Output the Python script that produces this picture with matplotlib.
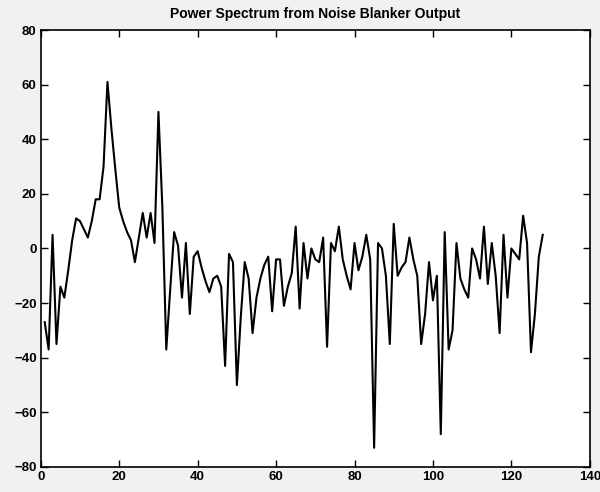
import numpy as np
import matplotlib
matplotlib.use('Agg')
import matplotlib.pyplot as plt

# spectrum values, one per bin (bins 1..128)
power_db = [
    -27, -37, 5, -35, -14, -18, -8, 3, 11, 10,
    7, 4, 10, 18, 18, 30, 61, 44, 29, 15,
    10, 6, 3, -5, 4, 13, 4, 13, 2, 50,
    15, -37, -15, 6, 1, -18, 2, -24, -3, -1,
    -7, -12, -16, -11, -10, -14, -43, -2, -5, -50,
    -25, -5, -11, -31, -18, -11, -6, -3, -23, -4,
    -4, -21, -14, -9, 8, -22, 2, -11, 0, -4,
    -5, 4, -36, 2, -1, 8, -4, -10, -15, 2,
    -8, -3, 5, -4, -73, 2, 0, -10, -35, 9,
    -10, -7, -5, 4, -4, -10, -35, -24, -5, -19,
    -10, -68, 6, -37, -30, 2, -11, -15, -18, 0,
    -4, -11, 8, -13, 2, -10, -31, 5, -18, 0,
    -2, -4, 12, 2, -38, -24, -3, 5,
]
bins = np.arange(1, len(power_db) + 1)

x_ticks = [0, 20, 40, 60, 80, 100, 120, 140]
y_ticks = [-80, -60, -40, -20, 0, 20, 40, 60, 80]
title = 'Power Spectrum from Noise Blanker Output'

plt.rcParams['font.family'] = ['Liberation Sans', 'DejaVu Sans']

fig = plt.figure(figsize=(6.0, 4.92), dpi=100)
fig.patch.set_facecolor('#f1f1f1')
ax = fig.add_axes([0.068, 0.051, 0.915, 0.888])
ax.set_facecolor('white')

ax.plot(bins, power_db, color='black', linewidth=1.5)

ax.set_xlim(0, 140)
ax.set_ylim(-80, 80)
ax.set_xticks(x_ticks)
ax.set_yticks(y_ticks)
ax.tick_params(direction='in', top=True, right=True, length=5, width=1,
               labelsize=9.5, pad=3, colors='black')
for lab in ax.get_xticklabels() + ax.get_yticklabels():
    lab.set_fontweight('bold')
for s in ax.spines.values():
    s.set_linewidth(1.2)

ax.set_title(title, fontsize=10, fontweight='bold', pad=9)

fig.savefig('out.png', dpi=100, facecolor=fig.get_facecolor())
